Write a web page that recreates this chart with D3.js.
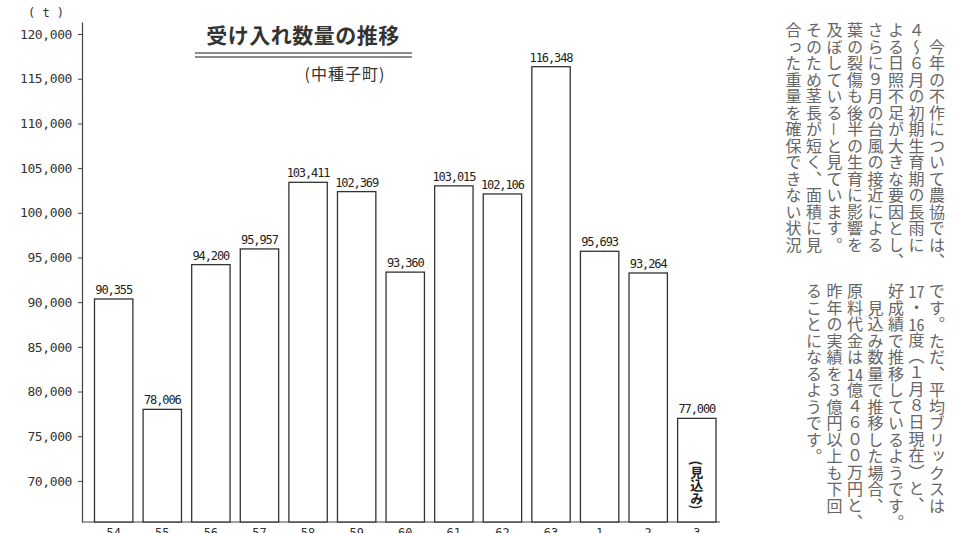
<!DOCTYPE html>
<html><head><meta charset="utf-8">
<script src="https://cdn.jsdelivr.net/npm/d3@7"></script>
<style>
body{margin:0;background:#fff;}
#wrap{position:relative;width:955px;height:533px;overflow:hidden;background:#fff;}
svg{position:absolute;left:0;top:0;}
.vblock{position:absolute;writing-mode:vertical-rl;font-family:"Noto Sans CJK JP";font-size:16px;color:#666;letter-spacing:0.5px;white-space:nowrap;line-height:20.5px;}
.tcy{text-combine-upright:all;}
</style></head><body><div id="wrap"></div>
<script>
const years = ["54","55","56","57","58","59","60","61","62","63","1","2","3"];
const volumes = [90355,78006,94200,95957,103411,102369,93360,103015,102106,116348,95693,93264,77000];
const yTicks = [70000,75000,80000,85000,90000,95000,100000,105000,110000,115000,120000];
const titleText = "受け入れ数量の推移";
const subtitleText = "(中種子町)";
const unitText = "( t )";
const estimateText = "(見込み)";
const upperCols = [
  "　今年の不作について農協では、",
  "４～６月の初期生育期の長雨に",
  "よる日照不足が大きな要因とし、",
  "さらに９月の台風の接近による",
  "葉の裂傷も後半の生育に影響を",
  "及ぼしている－と見ています。",
  "そのため茎長が短く、面積に見",
  "合った重量を確保できない状況"
];
const lowerCols = [
  "です。ただ、平均ブリックスは",
  "[17]・[16]度（１月８日現在）と、",
  "好成績で推移しているようです。",
  "　見込み数量で推移した場合、",
  "原料代金は[14]億４６００万円と、",
  "昨年の実績を３億円以上も下回",
  "ることになるようです。"
];

const W = 955, H = 533;
const wrap = d3.select("#wrap");
const svg = wrap.append("svg").attr("width", W).attr("height", H);

const x = d3.scaleBand().domain(years).range([94.5, 716]).paddingInner(0.21).paddingOuter(0);
const y = d3.scaleLinear().domain([65400, 121350]).range([522, 22]);
const axisX = 82;

// y axis
const gy = svg.append("g").attr("transform", `translate(${axisX},0)`)
  .call(d3.axisLeft(y).tickValues(yTicks).tickSize(4).tickSizeOuter(0).tickFormat(d3.format(",")).tickPadding(6));
gy.select(".domain").attr("stroke", "#444").attr("stroke-width", 1.2);
gy.selectAll(".tick line").attr("stroke", "#444");
gy.selectAll(".tick text").attr("font-family", "DejaVu Sans Mono").attr("font-size", 13)
  .attr("letter-spacing", -0.4).attr("fill", "#333");

// baseline
svg.append("line").attr("x1", axisX).attr("x2", x.range()[1] + 4)
  .attr("y1", y.range()[0]).attr("y2", y.range()[0]).attr("stroke", "#444").attr("stroke-width", 1.2);

// unit
svg.append("text").attr("x", 46).attr("y", 17).attr("text-anchor", "middle")
  .attr("font-family", "DejaVu Sans Mono").attr("font-size", 12).attr("fill", "#333").text(unitText);

// bars
const data = years.map((d, i) => ({year: d, v: volumes[i]}));
svg.append("g").selectAll("rect").data(data).join("rect")
  .attr("x", d => x(d.year)).attr("width", x.bandwidth())
  .attr("y", d => y(d.v)).attr("height", d => y.range()[0] - y(d.v))
  .attr("fill", "#fff").attr("stroke", "#333").attr("stroke-width", 1.3);

// value labels
svg.append("g").selectAll("text").data(data).join("text")
  .attr("x", d => x(d.year) + x.bandwidth() / 2).attr("y", d => y(d.v) - 5)
  .attr("text-anchor", "middle").attr("font-family", "DejaVu Sans Mono").attr("font-size", 12)
  .attr("letter-spacing", -1.1).attr("fill", "#222").text(d => d3.format(",")(d.v));

// x labels (cut at the bottom edge, as in the source)
svg.append("g").selectAll("text").data(years).join("text")
  .attr("x", d => x(d) + x.bandwidth() / 2).attr("y", 537)
  .attr("text-anchor", "middle").attr("font-family", "DejaVu Sans Mono").attr("font-size", 12)
  .attr("fill", "#333").text(d => d);

// estimate label inside last bar
const last = years[years.length - 1];
svg.append("text").attr("x", x(last) + x.bandwidth() / 2).attr("y", 485)
  .attr("text-anchor", "middle").attr("style", "writing-mode:vertical-rl")
  .attr("font-family", "Noto Sans CJK JP").attr("font-weight", "bold").attr("font-size", 13)
  .attr("fill", "#222").text(estimateText);

// title
svg.append("text").attr("x", 303).attr("y", 43).attr("text-anchor", "middle")
  .attr("font-family", "Noto Sans CJK JP").attr("font-weight", "bold").attr("font-size", 21)
  .attr("letter-spacing", 0.5).attr("fill", "#333").text(titleText);
[53, 57].forEach(yy => svg.append("line").attr("x1", 195).attr("x2", 412).attr("y1", yy).attr("y2", yy)
  .attr("stroke", "#666").attr("stroke-width", 1.5));
svg.append("text").attr("x", 345).attr("y", 80).attr("text-anchor", "middle")
  .attr("font-family", "Noto Sans CJK JP").attr("font-size", 16).attr("letter-spacing", 1)
  .attr("fill", "#333").text(subtitleText);

// vertical article text
function colHtml(s) {
  return s.replace(/\[(\d+)\]/g, '<span class="tcy">$1</span>');
}
function block(cols, right, top) {
  wrap.append("div").attr("class", "vblock")
    .style("right", right + "px").style("top", top + "px")
    .html(cols.map(colHtml).join("<br>"));
}
block(upperCols, 8, 22);
block(lowerCols, 8, 283);
</script></body></html>
